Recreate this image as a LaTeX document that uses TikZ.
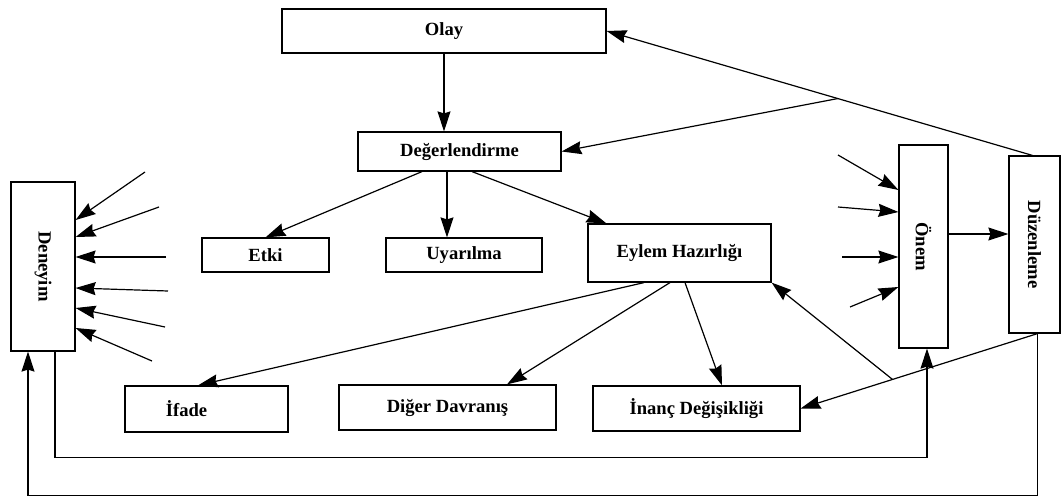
\documentclass[tikz,border=0pt]{standalone}
\usepackage{fontspec}
\setmainfont{Liberation Serif}
\usetikzlibrary{arrows.meta}
\begin{document}
\begin{tikzpicture}[x=0.5pt, y=-0.5pt,
  kutu/.style={draw, line width=0.6pt, inner sep=0pt, font=\fontsize{9.3}{11}\selectfont\bfseries},
  okcizgi/.style={line width=0.6pt, -{Stealth[length=10pt,width=6.5pt,inset=1pt]}},
  cizgi/.style={line width=0.6pt}]
\useasboundingbox (0,0) rectangle (1062,498);
% kutular
\node[kutu, minimum width=162pt, minimum height=22pt] (olay) at (444,31) {Olay};
\node[kutu, minimum width=101.5pt, minimum height=19.5pt] (deger) at (459.5,151.5) {Değerlendirme};
\node[kutu, minimum width=63.5pt, minimum height=17pt] (etki) at (265.5,255) {Etki};
\node[kutu, minimum width=78pt, minimum height=17pt] (uyar) at (464,255) {Uyarılma};
\node[kutu, minimum width=91.5pt, minimum height=29pt] (eylem) at (679.5,253) {Eylem Hazırlığı};
\node[kutu, minimum width=81.5pt, minimum height=23pt] (ifade) at (206.5,409) {İfade\hspace*{20pt}};
\node[kutu, minimum width=108.5pt, minimum height=22.5pt] (diger) at (447.5,407.5) {Diğer Davranış};
\node[kutu, minimum width=103.5pt, minimum height=22.5pt] (inanc) at (696.5,408.5) {İnanç Değişikliği};
\node[kutu, minimum width=32pt, minimum height=84.5pt] (deney) at (43,266.5) {\rotatebox{-90}{Deneyim}};
\node[kutu, minimum width=24.5pt, minimum height=101.5pt] (onem) at (923.5,246.5) {\rotatebox{-90}{Önem}};
\node[kutu, minimum width=25.5pt, minimum height=88.5pt] (duzen) at (1034.5,244.5) {\rotatebox{-90}{Düzenleme}};
% ust kisim
\draw[okcizgi] (olay.south) -- (olay.south |- deger.north);
\draw[okcizgi] ([xshift=12pt]duzen.north west) -- coordinate[pos=0.457] (ust) (olay.east);
\draw[okcizgi] (ust) -- (deger.east);
\draw[okcizgi] ([xshift=-18.75pt]deger.south) -- (etki.north);
\draw[okcizgi] ([xshift=-6.25pt]deger.south) coordinate (d2) -- (d2 |- uyar.north);
\draw[okcizgi] ([xshift=6.25pt]deger.south) -- ([xshift=9.5pt]eylem.north west);
% eylem hazirligi
\draw[okcizgi] ([xshift=-17.75pt]eylem.south) -- ([xshift=-4.25pt]ifade.north);
\draw[okcizgi] ([xshift=-4.75pt]eylem.south) -- ([xshift=29.75pt]diger.north);
\draw[okcizgi] ([xshift=2.75pt]eylem.south) -- ([xshift=12.75pt]inanc.north);
% duzenleme
\coordinate (dalt) at ([xshift=1.5pt]duzen.south);
\draw[okcizgi] (dalt) -- coordinate[pos=0.612] (alt) (inanc.east);
\draw[okcizgi] (alt) -- (eylem.south east);
\draw[okcizgi] (onem.east |- 0,234) -- (duzen.west |- 0,234);
% serbest oklar
\foreach \sx/\sy/\ey [count=\i] in {145/172/220, 159/207/237, 166/257/257, 168/291/288, 165/327/308, 152/361/328}
  \draw[okcizgi] (\sx,\sy) coordinate (dg\i) -- (deney.east |- 0,\ey);
\foreach \sx/\sy/\ey [count=\i] in {838/155/190, 838/207/212, 842/257/257, 850/307/287}
  \draw[okcizgi] (\sx,\sy) coordinate (og\i) -- (onem.west |- 0,\ey);
% geri besleme
\draw[okcizgi] ([xshift=6pt]deney.south) -- ++(0,106) -| ([xshift=1.75pt]onem.south);
\draw[okcizgi] (dalt) -- ++(0,162) -| ([xshift=-7.5pt]deney.south);
\end{tikzpicture}
\end{document}
